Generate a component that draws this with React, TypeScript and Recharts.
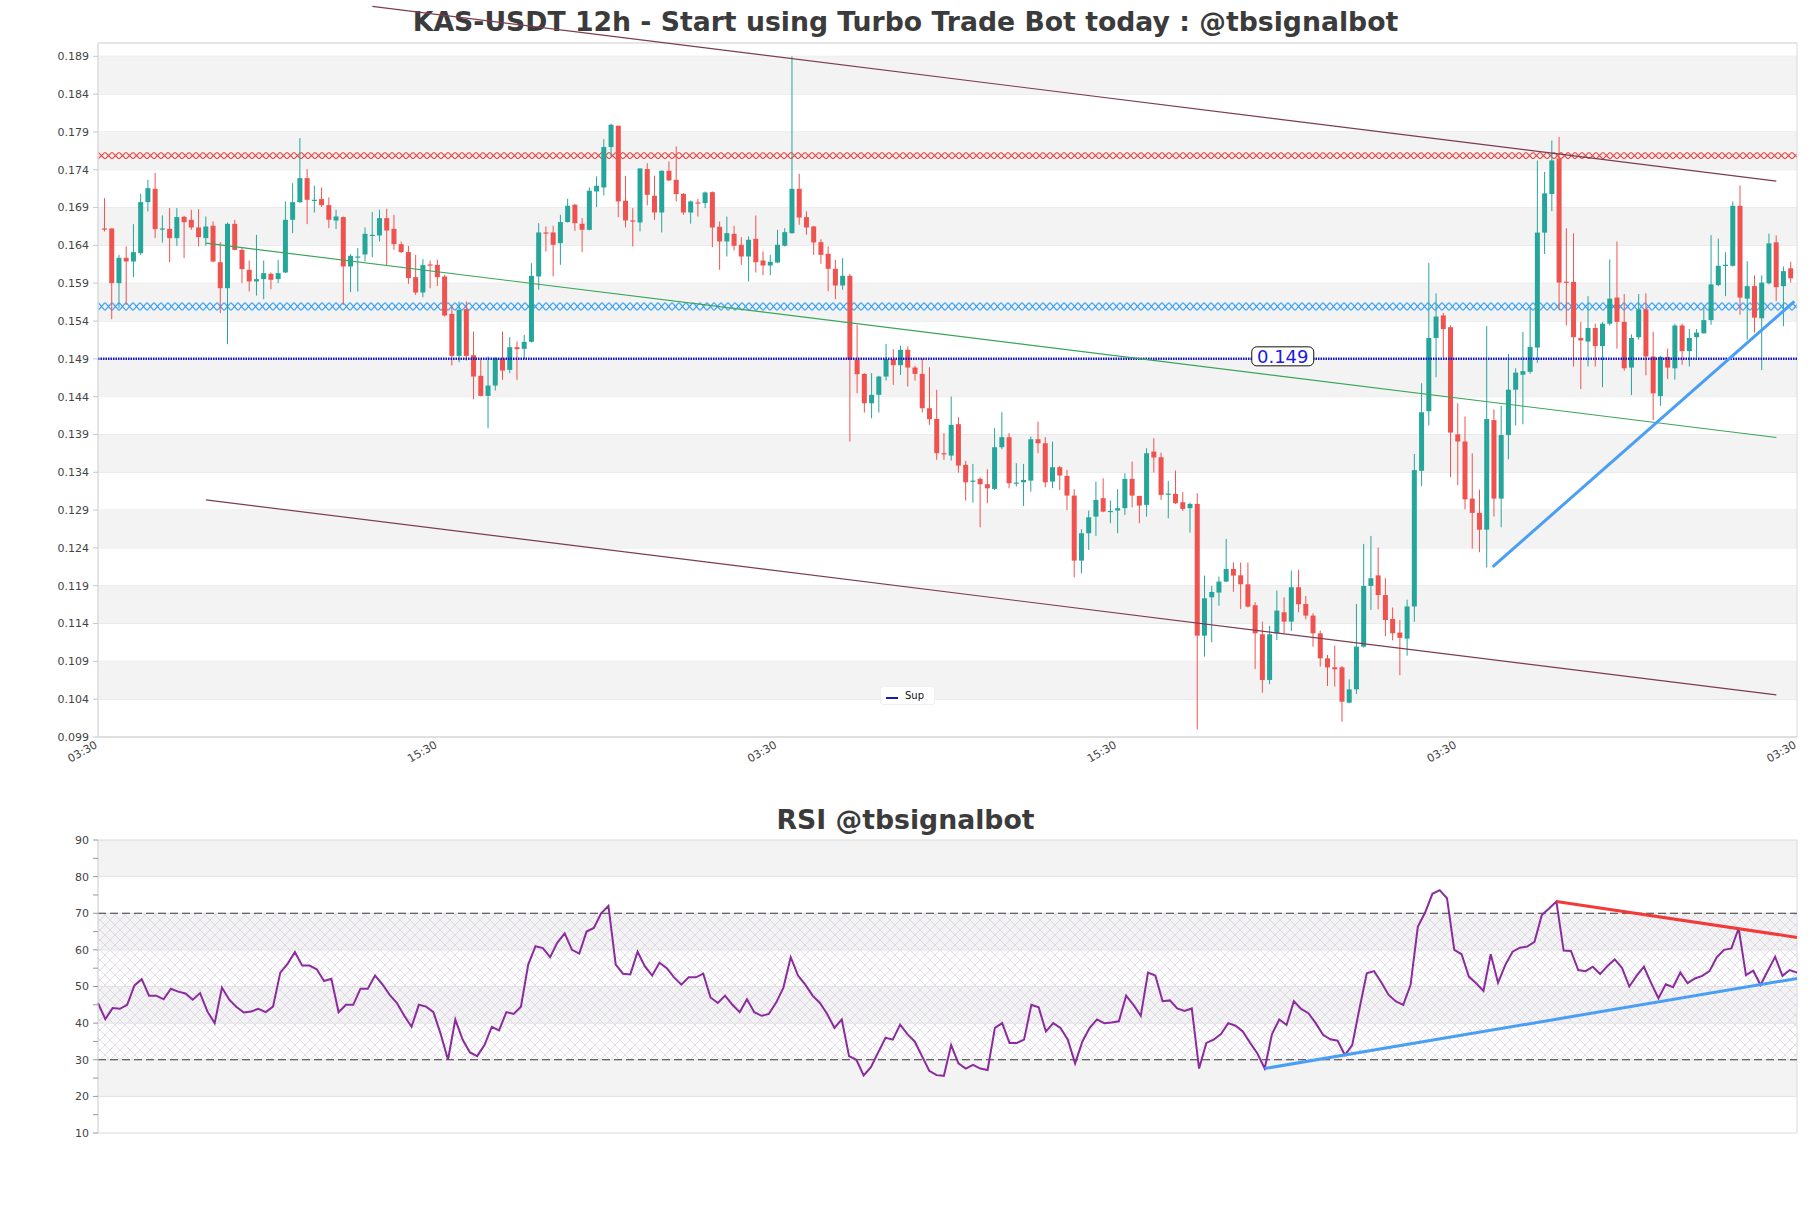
import React from 'react';
import {
  ComposedChart, LineChart, Line, Bar, XAxis, YAxis, CartesianGrid,
  ReferenceLine, ReferenceArea, ReferenceDot,
} from 'recharts';

const mainTitle = 'KAS-USDT 12h - Start using Turbo Trade Bot today : @tbsignalbot';
const rsiTitle = 'RSI @tbsignalbot';
const xTickLabels = ['03:30', '15:30', '03:30', '15:30', '03:30', '03:30'];

const opens = [
  0.16624,0.16624,0.15901,0.16236,0.16187,0.16297,0.16972,0.17148,0.16615,0.16619,
  0.16496,0.16778,0.16738,0.16637,0.16496,0.16659,0.16178,0.15834,0.16685,0.16341,
  0.16077,0.15923,0.15954,0.16024,0.15954,0.16042,0.16738,0.16972,0.17289,0.16999,
  0.17012,0.16932,0.16729,0.16774,0.16121,0.16249,0.16280,0.16536,0.16531,0.16760,
  0.16619,0.16416,0.16311,0.15980,0.15777,0.16148,0.16143,0.15989,0.15495,0.14939,
  0.15557,0.14948,0.14675,0.14410,0.14547,0.14900,0.14754,0.15054,0.15032,0.15125,
  0.15989,0.16571,0.16571,0.16430,0.16708,0.16937,0.16686,0.16606,0.17113,0.17166,
  0.17700,0.17982,0.16990,0.16730,0.16703,0.17409,0.17056,0.16835,0.17387,0.17267,
  0.17082,0.16835,0.16968,0.16959,0.17104,0.16646,0.16452,0.16553,0.16408,0.16253,
  0.16487,0.16201,0.16134,0.16174,0.16395,0.16562,0.17148,0.16774,0.16650,0.16443,
  0.16289,0.16090,0.15870,0.15998,0.14887,0.14701,0.14313,0.14424,0.14666,0.14895,
  0.14816,0.15019,0.14785,0.14701,0.14247,0.14106,0.13652,0.13621,0.14036,0.13498,
  0.13286,0.13313,0.13242,0.13180,0.13731,0.13864,0.13260,0.13268,0.13290,0.13837,
  0.13784,0.13277,0.13467,0.13352,0.13092,0.12232,0.12594,0.12814,0.13057,0.12885,
  0.12894,0.12925,0.13313,0.13088,0.12969,0.13674,0.13599,0.13115,0.13114,0.13004,
  0.12925,0.12982,0.11240,0.11747,0.11809,0.11955,0.12122,0.12038,0.11919,0.11642,
  0.11258,0.10654,0.11271,0.11549,0.11426,0.11880,0.11659,0.11505,0.11271,0.10940,
  0.10821,0.10821,0.10354,0.10530,0.11095,0.11897,0.12037,0.11777,0.11461,0.11281,
  0.11201,0.11626,0.13420,0.14208,0.15176,0.15474,0.15318,0.13902,0.13807,0.13052,
  0.12863,0.12641,0.14090,0.13052,0.13892,0.14492,0.14690,0.14728,0.15049,0.16569,
  0.17079,0.17551,0.15920,0.15917,0.15176,0.15129,0.15308,0.15068,0.15365,0.15710,
  0.15389,0.14784,0.15186,0.15554,0.14931,0.14407,0.14926,0.14775,0.15341,0.15002,
  0.15186,0.15237,0.15412,0.15875,0.16140,0.16130,0.16923,0.15696,0.15861,0.15436,
  0.15899,0.16441,0.15861,0.16097,
];

const highs = [
  0.17025,0.16624,0.16275,0.16386,0.16681,0.17082,0.17267,0.17356,0.16796,0.16893,
  0.16893,0.16791,0.16871,0.16879,0.16782,0.16716,0.16443,0.16703,0.16738,0.16377,
  0.16200,0.16540,0.16200,0.16042,0.16209,0.16981,0.17223,0.17819,0.17408,0.17188,
  0.17166,0.17034,0.16871,0.16782,0.16284,0.16364,0.16637,0.16840,0.16871,0.16884,
  0.16804,0.16452,0.16394,0.16275,0.16218,0.16200,0.16209,0.16011,0.15605,0.15658,
  0.15658,0.15261,0.14887,0.14931,0.14922,0.15261,0.15186,0.15129,0.15217,0.16165,
  0.16694,0.16650,0.16659,0.16805,0.17016,0.16950,0.16761,0.17166,0.17312,0.17805,
  0.18008,0.17982,0.17320,0.16893,0.17422,0.17488,0.17320,0.17391,0.17510,0.17708,
  0.17091,0.16994,0.17016,0.17113,0.17113,0.16716,0.16782,0.16659,0.16509,0.16518,
  0.16796,0.16320,0.16275,0.16606,0.16628,0.18899,0.17347,0.16849,0.16659,0.16483,
  0.16386,0.16209,0.16231,0.16024,0.15350,0.14710,0.14710,0.14675,0.15098,0.15028,
  0.15076,0.15063,0.14807,0.14909,0.14790,0.14490,0.13917,0.14402,0.14128,0.13551,
  0.13511,0.13335,0.13440,0.13983,0.14194,0.13917,0.13520,0.13511,0.13872,0.14071,
  0.13864,0.13806,0.13484,0.13432,0.13176,0.12647,0.12894,0.13277,0.13321,0.13026,
  0.13176,0.13387,0.13542,0.13088,0.13718,0.13850,0.13661,0.13286,0.13423,0.13136,
  0.12999,0.13123,0.12034,0.11897,0.12021,0.12519,0.12210,0.12206,0.12206,0.11681,
  0.11426,0.11368,0.11836,0.11747,0.12100,0.12109,0.11765,0.11536,0.11306,0.10985,
  0.11108,0.10839,0.10663,0.11659,0.12453,0.12559,0.12405,0.11999,0.11612,0.11447,
  0.11716,0.13642,0.14577,0.16168,0.15766,0.15507,0.15341,0.14312,0.14138,0.13651,
  0.13170,0.15332,0.14232,0.14279,0.14964,0.14775,0.15256,0.15577,0.17523,0.17371,
  0.17787,0.17834,0.16626,0.16559,0.15389,0.15729,0.15365,0.15389,0.16215,0.16451,
  0.15757,0.15223,0.15757,0.15766,0.15256,0.14940,0.15035,0.15365,0.15365,0.15294,
  0.15294,0.15577,0.16536,0.16489,0.16309,0.16980,0.17192,0.16191,0.16002,0.16002,
  0.16555,0.16531,0.16120,0.16182,
];

const lows = [
  0.16584,0.15424,0.15570,0.15614,0.15980,0.16275,0.16849,0.16496,0.16438,0.16178,
  0.16394,0.16231,0.16606,0.16386,0.16394,0.16174,0.15504,0.15094,0.16333,0.15901,
  0.15790,0.15737,0.15689,0.15821,0.15901,0.16033,0.16562,0.16959,0.16681,0.16835,
  0.16906,0.16628,0.16615,0.15614,0.15782,0.15790,0.16187,0.16244,0.16452,0.16134,
  0.16341,0.16297,0.15892,0.15746,0.15715,0.15834,0.15865,0.15460,0.14812,0.14856,
  0.14878,0.14366,0.14402,0.13983,0.14481,0.14622,0.14710,0.14622,0.14895,0.15116,
  0.15813,0.16320,0.15989,0.16143,0.16703,0.16593,0.16311,0.16597,0.16906,0.17060,
  0.17576,0.16774,0.16637,0.16386,0.16584,0.16928,0.16738,0.16571,0.17254,0.16981,
  0.16805,0.16686,0.16782,0.16893,0.16377,0.16077,0.16253,0.16333,0.16143,0.15923,
  0.16042,0.16007,0.16007,0.16165,0.16386,0.16553,0.16672,0.16540,0.16275,0.16156,
  0.15795,0.15689,0.15813,0.13806,0.14446,0.14190,0.14115,0.14190,0.14613,0.14556,
  0.14688,0.14534,0.14613,0.14190,0.14027,0.13564,0.13564,0.13555,0.13396,0.13026,
  0.12999,0.12673,0.12991,0.13167,0.13705,0.13189,0.13211,0.12955,0.13145,0.13652,
  0.13202,0.13189,0.13167,0.12902,0.12012,0.12065,0.12373,0.12559,0.12872,0.12726,
  0.12594,0.12836,0.12933,0.12726,0.12814,0.13396,0.13035,0.12792,0.12982,0.12889,
  0.12603,0.10001,0.10963,0.11152,0.11637,0.11946,0.11822,0.11593,0.11615,0.10799,
  0.10486,0.10597,0.11183,0.11271,0.11302,0.11549,0.11456,0.11095,0.10830,0.10575,
  0.10566,0.10103,0.10345,0.10469,0.11082,0.11580,0.11588,0.11234,0.11178,0.10715,
  0.10975,0.11423,0.13217,0.14020,0.14657,0.14917,0.13335,0.13231,0.12910,0.12391,
  0.12344,0.12141,0.12816,0.12674,0.13571,0.14020,0.14034,0.14704,0.14846,0.16286,
  0.16852,0.15540,0.15341,0.14799,0.14501,0.14799,0.14799,0.14525,0.15341,0.15035,
  0.14742,0.14421,0.15153,0.14681,0.14090,0.14279,0.14633,0.14624,0.14822,0.14799,
  0.14917,0.15237,0.15351,0.15861,0.15729,0.16120,0.15483,0.15153,0.15247,0.14751,
  0.15884,0.15662,0.15332,0.15908,
];

const closes = [
  0.16610,0.15901,0.16236,0.16187,0.16311,0.16972,0.17157,0.16615,0.16624,0.16496,
  0.16774,0.16707,0.16637,0.16509,0.16650,0.16187,0.15834,0.16685,0.16341,0.16086,
  0.15923,0.15954,0.16033,0.15945,0.16033,0.16738,0.16972,0.17289,0.17003,0.17003,
  0.16932,0.16738,0.16782,0.16121,0.16262,0.16253,0.16553,0.16540,0.16760,0.16597,
  0.16416,0.16311,0.15967,0.15777,0.16139,0.16140,0.15980,0.15473,0.14939,0.15548,
  0.14939,0.14666,0.14410,0.14547,0.14909,0.14745,0.15054,0.15028,0.15125,0.15998,
  0.16571,0.16562,0.16408,0.16708,0.16924,0.16694,0.16606,0.17122,0.17188,0.17700,
  0.17995,0.16981,0.16730,0.16720,0.17417,0.17069,0.16835,0.17387,0.17259,0.17078,
  0.16835,0.16981,0.16960,0.17100,0.16637,0.16452,0.16562,0.16395,0.16253,0.16474,
  0.16178,0.16134,0.16183,0.16408,0.16575,0.17148,0.16769,0.16637,0.16439,0.16275,
  0.16090,0.15870,0.15998,0.14887,0.14697,0.14313,0.14424,0.14666,0.14895,0.14816,
  0.15019,0.14785,0.14701,0.14247,0.14102,0.13652,0.13639,0.14027,0.13489,0.13268,
  0.13290,0.13242,0.13189,0.13731,0.13864,0.13255,0.13264,0.13299,0.13837,0.13784,
  0.13268,0.13467,0.13357,0.13092,0.12232,0.12594,0.12805,0.13035,0.12880,0.12889,
  0.12925,0.13313,0.13092,0.12960,0.13652,0.13595,0.13101,0.13119,0.12991,0.12916,
  0.12982,0.11240,0.11734,0.11818,0.11955,0.12122,0.12034,0.11919,0.11624,0.11271,
  0.10654,0.11258,0.11571,0.11426,0.11880,0.11655,0.11505,0.11271,0.10940,0.10821,
  0.10795,0.10367,0.10530,0.11095,0.11897,0.11999,0.11777,0.11447,0.11272,0.11211,
  0.11626,0.13429,0.14194,0.15176,0.15459,0.15294,0.13925,0.13807,0.13042,0.12863,
  0.12641,0.14104,0.13052,0.13892,0.14492,0.14718,0.14737,0.15058,0.16569,0.17088,
  0.17523,0.15908,0.15917,0.15186,0.15143,0.15308,0.15068,0.15365,0.15696,0.15389,
  0.14775,0.15176,0.15554,0.14931,0.14444,0.14926,0.14784,0.15341,0.15002,0.15176,
  0.15247,0.15412,0.15884,0.16130,0.16144,0.16923,0.15710,0.15861,0.15445,0.15908,
  0.16427,0.15847,0.16059,0.15965,
];

const rsiValues = [
  45.5,41.1,44.1,43.9,45.0,50.3,52.0,47.5,47.5,46.5,
  49.4,48.6,48.1,46.4,48.2,43.2,40.0,49.7,46.4,44.4,
  42.9,43.2,43.9,43.0,44.5,53.8,56.2,59.4,55.7,55.7,
  54.7,51.5,52.1,43.0,45.0,45.0,49.4,49.4,53.0,50.6,
  47.7,45.5,42.0,39.0,45.0,44.5,43.0,37.0,30.0,41.0,
  35.5,32.0,31.0,34.0,39.0,38.0,43.0,42.5,44.5,56.0,
  61.0,60.5,58.0,62.0,64.5,60.0,59.0,65.0,66.0,70.0,
  72.0,56.0,53.5,53.3,59.5,55.5,53.0,56.5,55.0,52.5,
  50.5,52.5,52.5,53.5,47.0,45.5,47.5,45.0,43.0,46.5,
  43.0,42.0,42.5,45.6,49.7,58.0,53.0,50.5,47.5,45.5,
  42.5,38.7,41.0,31.0,30.0,25.7,28.0,32.0,36.0,35.5,
  39.6,37.0,35.0,31.0,27.0,25.8,25.6,34.0,29.0,27.6,
  28.6,27.6,27.2,38.7,40.0,34.6,34.6,35.5,45.0,44.3,
  37.7,40.0,38.7,35.5,29.0,35.0,38.7,41.0,40.0,40.2,
  40.5,47.5,45.0,42.0,53.8,53.0,46.0,46.2,44.0,43.3,
  44.0,27.6,34.6,35.5,37.0,40.0,39.3,37.7,34.6,31.7,
  27.6,37.0,41.0,39.5,46.0,43.9,42.7,40.0,36.8,35.6,
  35.2,31.3,34.0,44.0,53.6,54.2,51.1,47.7,45.9,45.0,
  50.4,66.3,70.2,75.3,76.3,74.1,60.0,58.8,52.7,50.9,
  48.8,58.8,51.0,55.9,59.5,60.6,60.9,62.2,69.5,71.3,
  73.2,59.8,59.7,54.5,54.2,55.4,53.4,55.6,57.4,55.1,
  50.0,52.9,55.4,50.9,46.8,50.6,49.8,53.8,50.9,52.2,
  52.9,54.2,58.0,60.0,60.4,65.9,53.1,54.3,50.4,54.3,
  58.1,52.9,54.5,53.8,
];

const priceTicks = [0.099, 0.104, 0.109, 0.114, 0.119, 0.124, 0.129, 0.134, 0.139, 0.144,
  0.149, 0.154, 0.159, 0.164, 0.169, 0.174, 0.179, 0.184, 0.189];
const priceBands = [[0.104, 0.109], [0.114, 0.119], [0.124, 0.129], [0.134, 0.139], [0.144, 0.149],
  [0.154, 0.159], [0.164, 0.169], [0.174, 0.179], [0.184, 0.189]];
const rsiTicks = [10, 15, 20, 25, 30, 35, 40, 45, 50, 55, 60, 65, 70, 75, 80, 85, 90];
const rsiGridLevels = [20, 30, 40, 50, 60, 70, 80];
const rsiBands = [[20, 30], [40, 50], [60, 70], [80, 90]];
const rsiZone = [30, 70];

const supportLevel = 0.149;
const supportLabelAt = 162.8;
const resistanceBand = [0.17541, 0.17633];
const supportBand = [0.15539, 0.15645];
const upperChannel = [{ x: 37, y: 0.1956 }, { x: 231, y: 0.1725 }];
const lowerChannel = [{ x: 14, y: 0.13035 }, { x: 231, y: 0.10456 }];
const midTrend = [{ x: 14, y: 0.1643 }, { x: 231, y: 0.1386 }];
const riseTrend = [{ x: 191.8, y: 0.1215 }, { x: 233.5, y: 0.1566 }];
const rsiSupport = [{ x: 160, y: 27.6 }, { x: 233, y: 52.2 }];
const rsiResistance = [{ x: 200, y: 73.2 }, { x: 233, y: 63.4 }];

const FONT = '"DejaVu Sans", sans-serif';
const X_MIN = -0.912;
const X_MAX = 233.86;
const Y_MIN = 0.099;
const Y_MAX = 0.19076;
const xTicks = xTickLabels.map((_, k) => X_MIN + (k * (X_MAX - X_MIN)) / (xTickLabels.length - 1));

const candles = opens.map((o, i) => ({ i, open: o, high: highs[i], low: lows[i], close: closes[i] }));
const rsiData = rsiValues.map((v, i) => ({ i, rsi: v }));

const Candle = (props: any) => {
  const { x, y, width, height, payload } = props;
  if (x == null || y == null || !payload) return null;
  const top = Math.min(y, y + height);
  const h = Math.abs(height);
  const { open, close, high, low } = payload;
  const range = high - low || 1e-9;
  const py = (v: number) => top + ((high - v) / range) * h;
  const up = close >= open;
  const color = up ? '#26a69a' : '#ef5350';
  const cx = x + width / 2;
  const bTop = py(Math.max(open, close));
  const bBot = py(Math.min(open, close));
  return (
    <g>
      <line x1={cx} x2={cx} y1={top} y2={top + h} stroke={color} strokeWidth={1} />
      <rect x={x} y={bTop} width={width} height={Math.max(1.2, bBot - bTop)} fill={color} />
    </g>
  );
};

const XTick = (props: any) => {
  const { x, y, payload } = props;
  const idx = xTicks.findIndex((t) => Math.abs(t - payload.value) < 1e-6);
  const label = idx >= 0 ? xTickLabels[idx] : '';
  const ty = y + 2;
  return (
    <text x={x} y={ty} transform={`rotate(-30 ${x} ${ty})`} textAnchor="end"
      fontSize={11} fill="#444" fontFamily={FONT}>{label}</text>
  );
};

const PriceTag = (props: any) => {
  const { cx, cy } = props;
  if (cx == null || cy == null) return null;
  return (
    <g>
      <rect x={cx - 31} y={cy - 12} width={62} height={19} rx={5} ry={5} fill="#fff" stroke="#111" strokeWidth={1} />
      <text x={cx} y={cy - 2.5} textAnchor="middle" dominantBaseline="central" fontSize={18}
        fill="#1a1ae0" fontFamily={FONT}>{supportLevel.toFixed(3)}</text>
    </g>
  );
};

const titleStyle: React.CSSProperties = {
  position: 'absolute', left: 0, width: 1811, textAlign: 'center', fontSize: 26.7,
  fontWeight: 'bold', color: '#3b3b3b', lineHeight: '32px', fontFamily: FONT,
};

export default function App() {
  return (
    <div style={{ position: 'absolute', left: 0, top: 0, width: 1811, height: 1208, background: '#fff', fontFamily: FONT }}>
      <div style={{ ...titleStyle, top: 6 }}>{mainTitle}</div>
      <div style={{ ...titleStyle, top: 804 }}>{rsiTitle}</div>

      <div style={{ position: 'absolute', left: 0, top: 0 }}>
        <ComposedChart width={1811} height={800} data={candles} margin={{ top: 43, right: 14, left: 0, bottom: 23 }}>
          <defs>
            <pattern id="hatchRed" patternUnits="objectBoundingBox" x={0} y={0} width={0.00412} height={1}>
              <path d="M0,0 L7,7 M0,7 L7,0" stroke="#e53935" strokeWidth={1.1} />
            </pattern>
            <pattern id="hatchBlue" patternUnits="objectBoundingBox" x={0} y={0} width={0.00412} height={1}>
              <path d="M0,0 L7,8 M0,8 L7,0" stroke="#2b9af3" strokeWidth={1.1} />
            </pattern>
          </defs>
          {priceBands.map(([a, b]) => (
            <ReferenceArea key={`b${a}`} y1={a} y2={b} fill="#f3f3f3" fillOpacity={1} stroke="none" />
          ))}
          <CartesianGrid vertical={false} stroke="#e2e2e2" />
          <XAxis type="number" dataKey="i" domain={[X_MIN, X_MAX]} allowDataOverflow ticks={xTicks} interval={0}
            tick={<XTick />} tickLine={false} axisLine={{ stroke: '#dadada' }} height={40} tickSize={6} tickMargin={2} />
          <YAxis type="number" domain={[Y_MIN, Y_MAX]} allowDataOverflow ticks={priceTicks} interval={0}
            tickFormatter={(v: number) => v.toFixed(3)} width={98}
            tick={{ fontSize: 11, fill: '#444', fontFamily: FONT }} tickSize={5} tickMargin={4}
            axisLine={{ stroke: '#dadada' }} tickLine={{ stroke: '#c8c8c8' }} />
          <Bar dataKey={(d: any) => [d.low, d.high]} shape={(p: any) => <Candle {...p} />} barSize={5}
            isAnimationActive={false} />
          <ReferenceArea y1={resistanceBand[0]} y2={resistanceBand[1]} fill="url(#hatchRed)" fillOpacity={1} stroke="none" />
          <ReferenceArea y1={supportBand[0]} y2={supportBand[1]} fill="url(#hatchBlue)" fillOpacity={1} stroke="none" />
          <ReferenceLine y={supportLevel} stroke="#1414c8" strokeWidth={2.5} strokeDasharray="1.5 1" />
          <ReferenceLine segment={upperChannel} stroke="#7d3c4e" strokeWidth={1.2} ifOverflow="visible" />
          <ReferenceLine segment={lowerChannel} stroke="#7d3c4e" strokeWidth={1.2} ifOverflow="visible" />
          <ReferenceLine segment={midTrend} stroke="#3aa55a" strokeWidth={1.2} ifOverflow="visible" />
          <ReferenceLine segment={riseTrend} stroke="#4a9ff5" strokeWidth={3} ifOverflow="visible" />
          <ReferenceDot x={supportLabelAt} y={supportLevel} r={0} shape={(p: any) => <PriceTag {...p} />} />
          <ReferenceArea y1={Y_MIN} y2={Y_MAX} fill="none" stroke="#dadada" strokeWidth={1} />
        </ComposedChart>
      </div>

      <div style={{ position: 'absolute', left: 880, top: 686, width: 55, height: 19, background: '#fff',
        border: '1px solid #f0f0f0', borderRadius: 3, boxSizing: 'border-box' }}>
        <div style={{ position: 'absolute', left: 5, top: 10, width: 12, height: 2, background: '#1a1ab4' }} />
        <div style={{ position: 'absolute', left: 24, top: 1, fontSize: 10, lineHeight: '16px', color: '#111', fontFamily: FONT }}>Sup</div>
      </div>

      <div style={{ position: 'absolute', left: 0, top: 780 }}>
        <LineChart width={1811} height={400} data={rsiData} margin={{ top: 60, right: 14, left: 0, bottom: 47 }}>
          <defs>
            <pattern id="rsiHatch" patternUnits="userSpaceOnUse" width={10} height={10}>
              <path d="M0,0 L10,10 M0,10 L10,0" stroke="#cfc3da" strokeWidth={0.6} />
            </pattern>
          </defs>
          {rsiBands.map(([a, b]) => (
            <ReferenceArea key={`r${a}`} y1={a} y2={b} fill="#f3f3f3" fillOpacity={1} stroke="none" />
          ))}
          <ReferenceArea y1={rsiZone[0]} y2={rsiZone[1]} fill="url(#rsiHatch)" fillOpacity={1} stroke="none" />
          {rsiGridLevels.map((v) => (
            <ReferenceLine key={`g${v}`} y={v} stroke="#e2e2e2" strokeWidth={1} />
          ))}
          <XAxis type="number" dataKey="i" domain={[0, 233]} hide />
          <YAxis type="number" domain={[10, 90]} allowDataOverflow ticks={rsiTicks} interval={0}
            tickFormatter={(v: number) => (v % 10 === 0 ? String(v) : '')} width={98}
            tick={{ fontSize: 11, fill: '#444', fontFamily: FONT }} tickSize={5} tickMargin={4}
            axisLine={{ stroke: '#dadada' }} tickLine={{ stroke: '#999' }} />
          <ReferenceLine y={rsiZone[1]} stroke="#3a3a3a" strokeWidth={1.2} strokeDasharray="8 4" />
          <ReferenceLine y={rsiZone[0]} stroke="#3a3a3a" strokeWidth={1.2} strokeDasharray="8 4" />
          <Line type="linear" dataKey="rsi" stroke="#8b2b9e" strokeWidth={2} dot={false} isAnimationActive={false} />
          <ReferenceLine segment={rsiSupport} stroke="#4a9ff5" strokeWidth={3} />
          <ReferenceLine segment={rsiResistance} stroke="#f23a3a" strokeWidth={3} />
          <ReferenceArea y1={10} y2={90} fill="none" stroke="#dadada" strokeWidth={1} />
        </LineChart>
      </div>
    </div>
  );
}
